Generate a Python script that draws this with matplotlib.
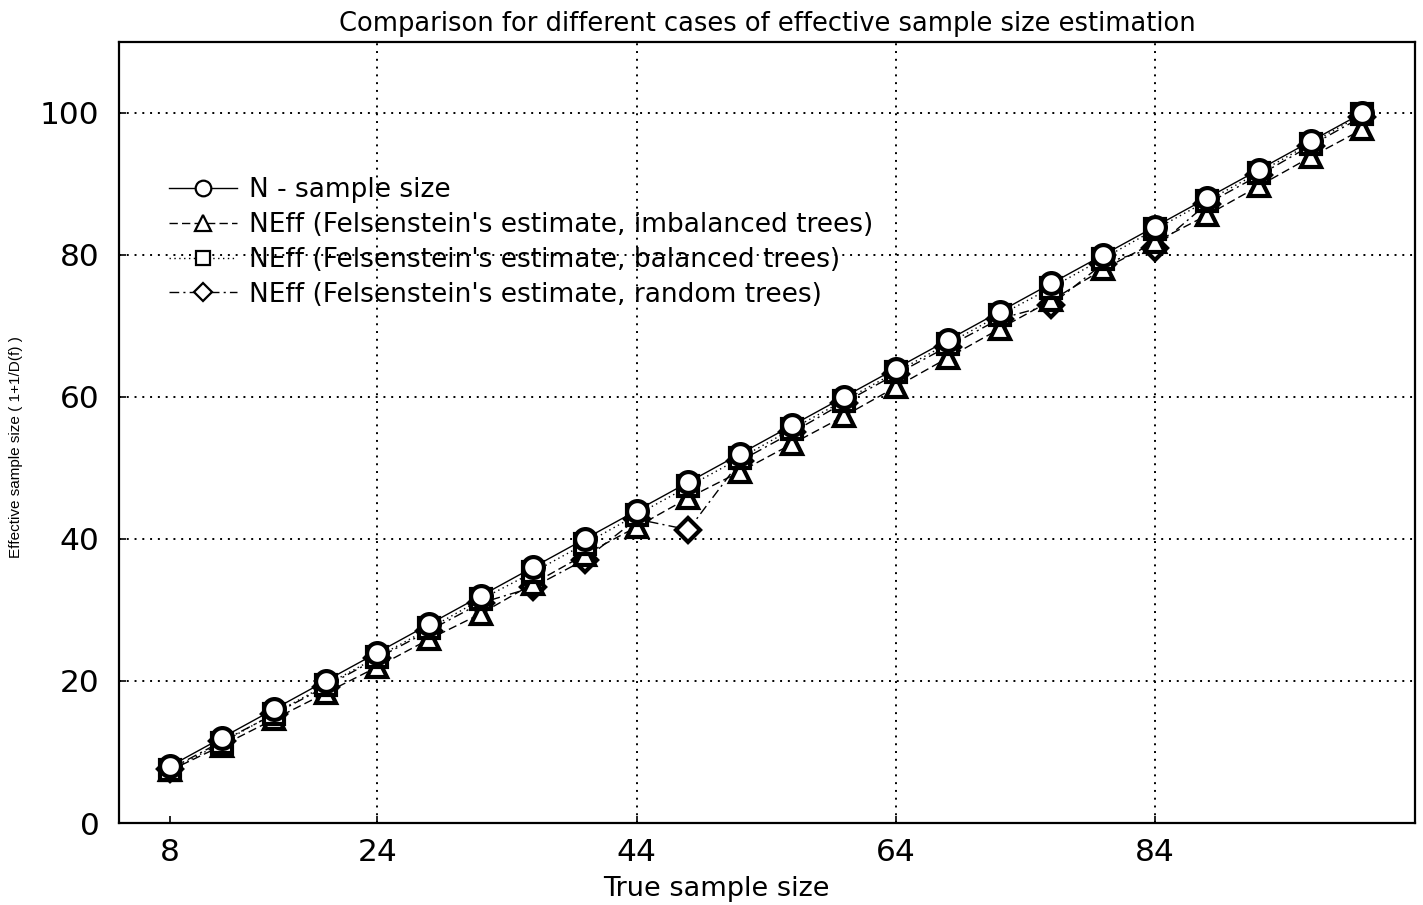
import numpy as np
import matplotlib
matplotlib.use("Agg")
import matplotlib.pyplot as plt

# True sample sizes and the estimated effective sample sizes
true_n = [8, 12, 16, 20, 24, 28, 32, 36, 40, 44, 48, 52,
          56, 60, 64, 68, 72, 76, 80, 84, 88, 92, 96, 100]
n_sample = [8, 12, 16, 20, 24, 28, 32, 36, 40, 44, 48, 52,
            56, 60, 64, 68, 72, 76, 80, 84, 88, 92, 96, 100]
neff_imbalanced = [7.4, 10.9, 14.6, 18.3, 22.0, 25.9, 29.5, 33.7, 37.8, 41.7, 45.8, 49.5,
                   53.4, 57.3, 61.4, 65.5, 69.6, 73.6, 78.0, 81.8, 85.6, 89.7, 93.8, 97.7]
neff_balanced = [7.4, 11.3, 15.4, 19.4, 23.4, 27.4, 31.5, 35.3, 39.3, 43.4, 47.4, 51.4,
                 55.5, 59.5, 63.5, 67.5, 71.5, 75.4, 79.5, 83.6, 87.6, 91.6, 95.7, 99.8]
neff_random = [7.6, 11.5, 15.3, 19.2, 23.2, 27.1, 31.0, 33.2, 37.1, 42.8, 41.3, 51.0,
               55.0, 59.2, 63.2, 67.1, 71.0, 73.0, 78.8, 81.0, 87.2, 91.2, 95.4, 99.5]

x_ticks = [8, 24, 44, 64, 84]
y_ticks = [0, 20, 40, 60, 80, 100]

plt.rcParams["font.family"] = ["DejaVu Sans"]

fig = plt.figure(figsize=(14.23, 9.05), dpi=100)
ax = fig.add_axes([119 / 1423, 1 - 823 / 905, (1415 - 119) / 1423, (823 - 42) / 905])

marker_kw = dict(markersize=15, markerfacecolor="white", markeredgecolor="black",
                 markeredgewidth=3.0, color="black", linewidth=1.0)

ax.plot(true_n, neff_random, linestyle=(0, (7, 3, 1.5, 3)), marker="D",
        label="NEff (Felsenstein's estimate, random trees)", zorder=3,
        **{**marker_kw, "markersize": 12.5})
ax.plot(true_n, neff_imbalanced, linestyle=(0, (6, 3)), marker="^",
        label="NEff (Felsenstein's estimate, imbalanced trees)", zorder=4, **marker_kw)
ax.plot(true_n, neff_balanced, linestyle=(0, (1, 2.5)), marker="s",
        label="NEff (Felsenstein's estimate, balanced trees)", zorder=5,
        **{**marker_kw, "markersize": 14})
ax.plot(true_n, n_sample, linestyle="-", marker="o",
        label="N - sample size", zorder=6, **marker_kw)

ax.set_xlim(4.06, 104.06)
ax.set_ylim(0, 110)
ax.set_xticks(x_ticks)
ax.set_yticks(y_ticks)
ax.tick_params(direction="in", length=5, width=1.2, labelsize=22.5,
               top=False, right=False)
ax.tick_params(axis="x", pad=11)
ax.tick_params(axis="y", pad=14)

# Dotted grid (skip the leftmost vertical and the baseline)
for xv in x_ticks[1:]:
    ax.axvline(xv, color="black", linestyle=(0, (1, 3)), linewidth=1.4, zorder=1)
for yv in y_ticks[1:]:
    ax.axhline(yv, color="black", linestyle=(0, (1, 3)), linewidth=1.4, zorder=1)

for sp in ax.spines.values():
    sp.set_linewidth(1.6)

ax.set_title("Comparison for different cases of effective sample size estimation",
             fontsize=18.5, pad=8)
ax.set_xlabel("True sample size", fontsize=19.5)
ax.xaxis.set_label_coords(0.4606, -0.068)
ax.set_ylabel("Effective sample size ( 1+1/D(f) )", fontsize=11,
              family=["Liberation Sans", "DejaVu Sans"])
ax.yaxis.set_label_coords(-0.074, 0.481)

handles, labels = ax.get_legend_handles_labels()
order = [3, 1, 2, 0]
leg = ax.legend([handles[i] for i in order], [labels[i] for i in order],
                loc="upper left", bbox_to_anchor=(0.02, 0.857), frameon=False,
                fontsize=19, handlelength=2.6, handletextpad=0.45,
                labelspacing=0.33, markerscale=0.75)
for h in leg.legend_handles:
    h.set_markeredgewidth(1.6)

fig.savefig("out.png", dpi=100)
